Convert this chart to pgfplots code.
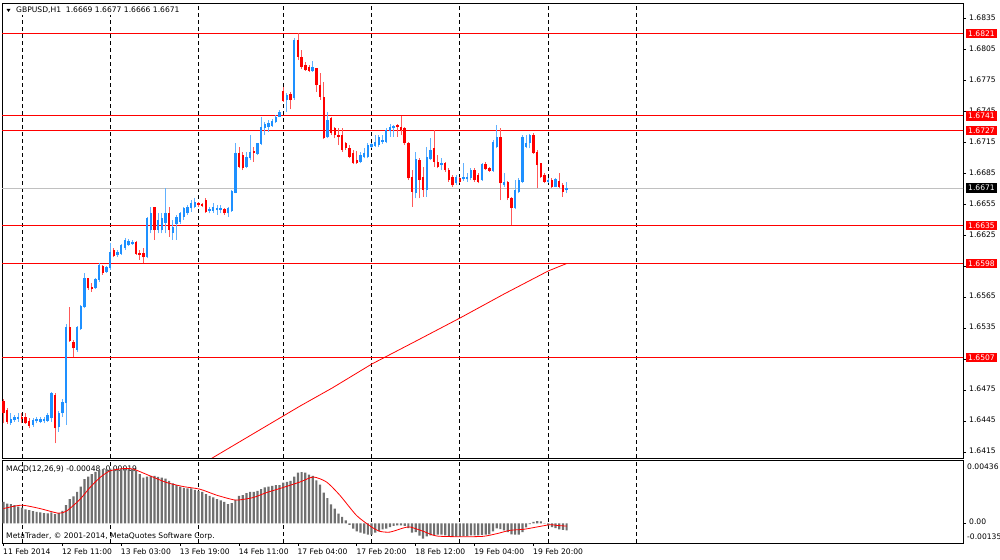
\documentclass[border=0pt]{standalone}
\usepackage{pgfplots}
\usepackage{pgfplotstable}
\pgfplotsset{compat=1.18}
\usepackage{fontspec}
\setmainfont{DejaVu Sans}
\newcommand{\mtfont}{\fontsize{7.6bp}{9bp}\selectfont}
\definecolor{bull}{RGB}{30,144,255}
\definecolor{bear}{RGB}{255,0,0}
\definecolor{histgray}{RGB}{112,112,112}
\definecolor{pricegray}{RGB}{192,192,192}

\pgfplotstableread{
i o h l c
2 1.64441 1.64531 1.64418 1.64473
3 1.64467 1.64515 1.64451 1.64499
4 1.64480 1.64538 1.64451 1.64492
8 1.64418 1.64483 1.64402 1.64467
9 1.64454 1.64499 1.64434 1.64473
10 1.64451 1.64492 1.64434 1.64480
11 1.64454 1.64499 1.64434 1.64480
12 1.64460 1.64531 1.64451 1.64515
13 1.64483 1.64741 1.64451 1.64725
15 1.64402 1.64554 1.64354 1.64531
16 1.64531 1.64667 1.64499 1.64644
17 1.64628 1.65396 1.64418 1.65370
20 1.65144 1.65377 1.65128 1.65370
21 1.65344 1.65580 1.65338 1.65570
22 1.65557 1.65887 1.65548 1.65838
25 1.65741 1.65838 1.65732 1.65828
26 1.65822 1.65983 1.65806 1.65967
28 1.65903 1.65958 1.65893 1.65951
29 1.65935 1.66177 1.65919 1.66096
31 1.66064 1.66112 1.66048 1.66096
32 1.66074 1.66171 1.66064 1.66161
33 1.66129 1.66225 1.66112 1.66209
34 1.66161 1.66216 1.66151 1.66203
35 1.66171 1.66209 1.66161 1.66193
39 1.66041 1.66434 1.66032 1.66418
40 1.66305 1.66531 1.66273 1.66467
42 1.66305 1.66467 1.66273 1.66402
43 1.66305 1.66467 1.66273 1.66418
44 1.66376 1.66709 1.66273 1.66467
46 1.66273 1.66402 1.66209 1.66338
47 1.66364 1.66451 1.66209 1.66434
48 1.66386 1.66483 1.66364 1.66467
49 1.66434 1.66531 1.66402 1.66515
50 1.66467 1.66547 1.66451 1.66531
51 1.66515 1.66596 1.66483 1.66564
52 1.66531 1.66612 1.66515 1.66580
56 1.66493 1.66531 1.66467 1.66505
57 1.66493 1.66564 1.66473 1.66531
58 1.66499 1.66547 1.66451 1.66515
59 1.66499 1.66547 1.66467 1.66515
61 1.66467 1.66531 1.66434 1.66515
62 1.66493 1.66693 1.66483 1.66686
63 1.66667 1.67144 1.66660 1.67048
66 1.66919 1.67064 1.66902 1.67015
67 1.66999 1.67225 1.66983 1.67064
69 1.67041 1.67151 1.67031 1.67144
70 1.67138 1.67403 1.67128 1.67306
71 1.67290 1.67354 1.67225 1.67332
72 1.67306 1.67370 1.67257 1.67338
73 1.67312 1.67377 1.67306 1.67364
74 1.67354 1.67419 1.67345 1.67403
75 1.67403 1.67467 1.67396 1.67451
77 1.67564 1.67628 1.67451 1.67612
79 1.67580 1.68161 1.67564 1.68145
84 1.67848 1.67944 1.67838 1.67886
88 1.67202 1.67451 1.67192 1.67370
97 1.66967 1.67063 1.66950 1.67031
98 1.67008 1.67096 1.66999 1.67047
99 1.67015 1.67144 1.66999 1.67128
100 1.67112 1.67151 1.67096 1.67138
101 1.67118 1.67225 1.67112 1.67160
102 1.67128 1.67225 1.67112 1.67209
103 1.67160 1.67225 1.67138 1.67176
104 1.67160 1.67289 1.67144 1.67273
105 1.67267 1.67331 1.67209 1.67305
106 1.67289 1.67322 1.67209 1.67312
112 1.66660 1.67063 1.66612 1.66989
115 1.66692 1.67112 1.66628 1.67015
116 1.66989 1.67192 1.66983 1.67080
119 1.66934 1.66999 1.66886 1.66950
123 1.66757 1.66837 1.66741 1.66821
125 1.66796 1.66950 1.66783 1.66821
126 1.66796 1.66854 1.66773 1.66815
127 1.66805 1.66902 1.66789 1.66886
130 1.66789 1.66950 1.66783 1.66944
133 1.66879 1.67176 1.66870 1.67160
134 1.67112 1.67322 1.67096 1.67209
136 1.66741 1.66854 1.66725 1.66773
139 1.66515 1.66789 1.66505 1.66692
140 1.66676 1.66805 1.66660 1.66789
141 1.66773 1.67225 1.66757 1.67209
142 1.67112 1.67225 1.67096 1.67144
143 1.67144 1.67235 1.67096 1.67225
148 1.66773 1.66805 1.66757 1.66789
150 1.66725 1.66805 1.66718 1.66796
153 1.66690 1.66770 1.66660 1.66710
}\bulltab

\pgfplotstableread{
i o h l c
0 1.64654 1.64667 1.64434 1.64531
1 1.64563 1.64580 1.64428 1.64451
5 1.64492 1.64538 1.64434 1.64473
6 1.64499 1.64538 1.64428 1.64434
7 1.64460 1.64483 1.64386 1.64409
14 1.64709 1.64731 1.64241 1.64386
18 1.65370 1.65564 1.65225 1.65235
19 1.65225 1.65241 1.65073 1.65160
23 1.65838 1.65845 1.65725 1.65741
24 1.65757 1.65790 1.65709 1.65732
27 1.65958 1.65967 1.65870 1.65887
30 1.66112 1.66129 1.66041 1.66054
36 1.66193 1.66203 1.66064 1.66074
37 1.66087 1.66112 1.66016 1.66064
38 1.66080 1.66129 1.65983 1.66041
41 1.66525 1.66531 1.66209 1.66305
45 1.66467 1.66531 1.66241 1.66305
53 1.66564 1.66580 1.66531 1.66547
54 1.66557 1.66570 1.66525 1.66538
55 1.66596 1.66612 1.66473 1.66483
60 1.66505 1.66515 1.66451 1.66467
64 1.67054 1.67112 1.66902 1.66919
65 1.67031 1.67064 1.66886 1.66902
68 1.67073 1.67112 1.66967 1.67054
76 1.67654 1.67687 1.67548 1.67557
78 1.67622 1.67645 1.67474 1.67564
80 1.68145 1.68209 1.67951 1.67983
81 1.67983 1.68048 1.67860 1.67886
82 1.67902 1.67935 1.67848 1.67854
83 1.67886 1.67902 1.67838 1.67848
85 1.67870 1.67875 1.67644 1.67709
86 1.67709 1.67822 1.67564 1.67596
87 1.67596 1.67741 1.67185 1.67192
89 1.67386 1.67396 1.67225 1.67241
90 1.67289 1.67305 1.67192 1.67225
91 1.67225 1.67289 1.67128 1.67209
92 1.67225 1.67289 1.67063 1.67080
93 1.67144 1.67160 1.67080 1.67096
94 1.67096 1.67128 1.66999 1.67015
95 1.67047 1.67080 1.66944 1.66950
96 1.66983 1.67073 1.66944 1.66957
107 1.67322 1.67331 1.67209 1.67299
108 1.67299 1.67409 1.67225 1.67273
109 1.67289 1.67305 1.67128 1.67144
110 1.67151 1.67160 1.66789 1.66805
111 1.66821 1.66886 1.66531 1.66676
113 1.66983 1.66999 1.66612 1.66789
114 1.66821 1.66918 1.66628 1.66692
117 1.67096 1.67273 1.66918 1.66967
118 1.66967 1.67031 1.66902 1.66918
120 1.66957 1.66967 1.66870 1.66886
121 1.66886 1.66902 1.66773 1.66789
122 1.66821 1.66837 1.66725 1.66741
124 1.66805 1.66821 1.66763 1.66773
128 1.66886 1.66902 1.66773 1.66789
129 1.66837 1.66854 1.66757 1.66773
131 1.66944 1.66967 1.66886 1.66892
132 1.66902 1.66918 1.66870 1.66879
135 1.67202 1.67289 1.66595 1.66757
137 1.66773 1.66783 1.66595 1.66612
138 1.66612 1.66621 1.66353 1.66515
144 1.67225 1.67241 1.67041 1.67054
145 1.67063 1.67080 1.66708 1.66934
146 1.66950 1.66957 1.66805 1.66821
147 1.66837 1.66854 1.66757 1.66773
149 1.66789 1.66805 1.66708 1.66725
151 1.66783 1.66860 1.66708 1.66725
152 1.66741 1.66757 1.66628 1.66676
}\beartab

\pgfplotstableread{
i v
56.6 1.64096
68.5 1.64347
80.6 1.64602
89.3 1.64776
100.1 1.65009
112.1 1.65231
124.05 1.65454
136 1.65686
148 1.65909
153 1.65981
}\matab

\pgfplotstableread{
i m
0 0.00148
1 0.00136
2 0.00132
3 0.00125
4 0.00116
5 0.00109
6 0.00097
7 0.00091
8 0.00084
9 0.00079
10 0.00075
11 0.00070
12 0.00068
13 0.00075
14 0.00063
15 0.00070
16 0.00086
17 0.00125
18 0.00166
19 0.00185
20 0.00217
21 0.00253
22 0.00304
23 0.00322
24 0.00338
25 0.00354
26 0.00368
27 0.00373
28 0.00373
29 0.00377
30 0.00377
31 0.00377
32 0.00377
33 0.00377
34 0.00373
35 0.00373
36 0.00361
37 0.00338
38 0.00315
39 0.00322
40 0.00327
41 0.00327
42 0.00320
43 0.00315
44 0.00308
45 0.00292
46 0.00276
47 0.00263
48 0.00253
49 0.00244
50 0.00240
51 0.00240
52 0.00230
53 0.00224
54 0.00217
55 0.00201
56 0.00189
57 0.00178
58 0.00166
59 0.00159
60 0.00148
61 0.00132
62 0.00139
63 0.00162
64 0.00189
65 0.00194
66 0.00208
67 0.00217
68 0.00217
69 0.00224
70 0.00235
71 0.00247
72 0.00253
73 0.00258
74 0.00263
75 0.00263
76 0.00281
77 0.00286
78 0.00292
79 0.00322
80 0.00349
81 0.00353
82 0.00349
83 0.00335
84 0.00326
85 0.00296
86 0.00266
87 0.00211
88 0.00174
89 0.00131
90 0.00101
91 0.00067
92 0.00044
93 0.00021
94 -0.00010
95 -0.00037
96 -0.00055
97 -0.00064
98 -0.00071
99 -0.00078
100 -0.00078
101 -0.00064
102 -0.00055
103 -0.00041
104 -0.00037
105 -0.00025
106 -0.00018
107 -0.00014
108 -0.00014
109 -0.00018
110 -0.00032
111 -0.00064
112 -0.00060
113 -0.00085
114 -0.00105
115 -0.00090
116 -0.00083
117 -0.00083
118 -0.00078
119 -0.00078
120 -0.00083
121 -0.00087
122 -0.00092
123 -0.00092
124 -0.00092
125 -0.00087
126 -0.00087
127 -0.00083
128 -0.00083
129 -0.00083
130 -0.00080
131 -0.00078
132 -0.00075
133 -0.00055
134 -0.00035
135 -0.00040
136 -0.00048
137 -0.00060
138 -0.00075
139 -0.00078
140 -0.00078
141 -0.00060
142 -0.00028
143 -0.00005
144 0.00011
145 0.00016
146 0.00014
147 -0.00002
148 -0.00014
149 -0.00025
150 -0.00032
151 -0.00041
152 -0.00044
153 -0.00048
}\histtab

\pgfplotstableread{
i s
0 0.00102
4.9 0.00125
9.9 0.00102
14.9 0.00070
17.2 0.00086
20.8 0.00166
23.5 0.00247
26.2 0.00315
28.9 0.00361
32.6 0.00377
35.3 0.00373
39.8 0.00327
44.3 0.00281
48.9 0.00253
53.4 0.00235
57.9 0.00194
62.5 0.00162
64.3 0.00162
67.9 0.00178
71.5 0.00212
76.0 0.00247
80.6 0.00285
84.2 0.00319
87.8 0.00284
91.4 0.00193
95.9 0.00055
100.0 -0.00025
102.3 -0.00055
105.0 -0.00060
108.6 -0.00032
110.5 -0.00025
114.1 -0.00055
117.7 -0.00087
124.9 -0.00092
130.4 -0.00089
134.0 -0.00071
137.6 -0.00048
141.3 -0.00041
144.9 -0.00025
148.5 -0.00009
150.3 -0.00014
153 -0.00019
}\sigtab

\pgfplotsset{
  mtaxis/.style={
    scale only axis, anchor=south west, width=961bp,
    xmin=-0.41, xmax=260.7,
    axis line style={line width=0.8bp, black},
    tick align=outside, major tick length=3bp,
    tick style={black, line width=0.8bp},
    extra x ticks={5,29,53,76,100,124,148,172},
    extra x tick labels={},
    extra x tick style={grid=major, major tick length=0pt},
    major grid style={black, line width=0.8bp, dash pattern=on 4bp off 3bp},
    scaled y ticks=false,
    ytick pos=right, yticklabel pos=right,
    yticklabel style={font=\mtfont, inner sep=0pt, xshift=3bp, yshift=1.5bp},
    clip mode=individual,
  },
  candle/.style n args={2}{draw=none, mark=none, forget plot,
    error bars/.cd, y dir=plus, y explicit, error mark=none,
    error bar style={line width=#1, draw=#2, solid}},
}
\tikzset{
  pricebox/.style={font=\mtfont, anchor=west, inner xsep=2bp, inner ysep=0pt,
    minimum height=9.5bp, xshift=3bp, text=white},
}

\begin{document}
\begin{tikzpicture}[x=1bp,y=1bp]
\fill[white] (0,0) rectangle (1000,560);

% MACD window titles (panel content lies over them)
\node[anchor=west, inner sep=0pt, font=\mtfont] at (6,91.3) {MACD(12,26,9) -0.00048 -0.00019};
\node[anchor=west, inner sep=0pt, font=\mtfont] at (6,24) {MetaTrader, © 2001-2014, MetaQuotes Software Corp.};

% ---------------- price panel ----------------
\begin{axis}[mtaxis, at={(2bp,102bp)}, height=455bp,
  ymin=1.640986, ymax=1.68503,
  xtick=\empty,
  ytick={1.6415,1.6445,1.6475,1.6505,1.6535,1.6565,1.6595,1.6625,1.6655,1.6685,1.6715,1.6745,1.6775,1.6805,1.6835},
  yticklabels={1.6415,1.6445,1.6475,1.6505,1.6535,1.6565,1.6595,1.6625,1.6655,1.6685,1.6715,1.6745,1.6775,1.6805,1.6835},
]
\addplot[pricegray, line width=1bp, forget plot] coordinates {(-1,1.6671) (262,1.6671)};
\addplot[bear, line width=1.1bp, forget plot] coordinates {(-1,1.6821) (262,1.6821)};
\addplot[bear, line width=1.1bp, forget plot] coordinates {(-1,1.6741) (262,1.6741)};
\addplot[bear, line width=1.1bp, forget plot] coordinates {(-1,1.6727) (262,1.6727)};
\addplot[bear, line width=1.1bp, forget plot] coordinates {(-1,1.6635) (262,1.6635)};
\addplot[bear, line width=1.1bp, forget plot] coordinates {(-1,1.6598) (262,1.6598)};
\addplot[bear, line width=1.1bp, forget plot] coordinates {(-1,1.6507) (262,1.6507)};
% moving average
\addplot[bear, line width=0.8bp, forget plot] table[x=i, y=v] {\matab};
% candle wicks
\addplot[candle={0.9bp}{bull!70}] table[x=i, y=l, y error plus expr=\thisrow{h}-\thisrow{l}] {\bulltab};
\addplot[candle={0.9bp}{bear!65}] table[x=i, y=l, y error plus expr=\thisrow{h}-\thisrow{l}] {\beartab};
% candle bodies
\addplot[candle={2.4bp}{bull}] table[x=i, y=o, y error plus expr=\thisrow{c}-\thisrow{o}] {\bulltab};
\addplot[candle={2.4bp}{bear}] table[x=i, y=c, y error plus expr=\thisrow{o}-\thisrow{c}] {\beartab};
% price boxes
\node[pricebox, fill=bear] at (axis cs:260.7,1.6821) {1.6821};
\node[pricebox, fill=bear] at (axis cs:260.7,1.6741) {1.6741};
\node[pricebox, fill=bear] at (axis cs:260.7,1.6727) {1.6727};
\node[pricebox, fill=black] at (axis cs:260.7,1.6671) {1.6671};
\node[pricebox, fill=bear] at (axis cs:260.7,1.6635) {1.6635};
\node[pricebox, fill=bear] at (axis cs:260.7,1.6598) {1.6598};
\node[pricebox, fill=bear] at (axis cs:260.7,1.6507) {1.6507};
\end{axis}

% ---------------- MACD panel ----------------
\begin{axis}[mtaxis, at={(2bp,17bp)}, height=83bp,
  ymin=-0.00135, ymax=0.00436,
  xtick={0,16,32,48,64,80,96,112,128,144},
  xticklabels={11 Feb 2014,12 Feb 11:00,13 Feb 03:00,13 Feb 19:00,14 Feb 11:00,17 Feb 04:00,17 Feb 20:00,18 Feb 12:00,19 Feb 04:00,19 Feb 20:00},
  xtick pos=bottom,
  xticklabel style={font=\mtfont, anchor=north west, inner sep=0pt, xshift=-0.5bp, yshift=-3bp},
  ytick={0}, yticklabels={0.00},
]
\addplot[ybar, bar width=2.2bp, fill=histgray, draw=none, forget plot] table[x=i, y=m] {\histtab};
\addplot[bear, line width=0.8bp, smooth, tension=0.4, forget plot] table[x=i, y=s] {\sigtab};
\end{axis}

\node[anchor=west, inner sep=0pt, font=\mtfont] at (967,93.7) {0.00436};
\node[anchor=west, inner sep=0pt, font=\mtfont] at (967,23) {-0.00135};

% chart window title
\fill[white] (4,545) rectangle (186,555);
\fill[black] (6.5,551) -- (10.5,551) -- (8.5,548) -- cycle;
\node[anchor=west, inner sep=0pt, font=\mtfont] at (16,550) {GBPUSD,H1\ \ 1.6669 1.6677 1.6666 1.6671};

\pgfresetboundingbox
\path[use as bounding box] (0,0) rectangle (1000,560);
\end{tikzpicture}
\end{document}
